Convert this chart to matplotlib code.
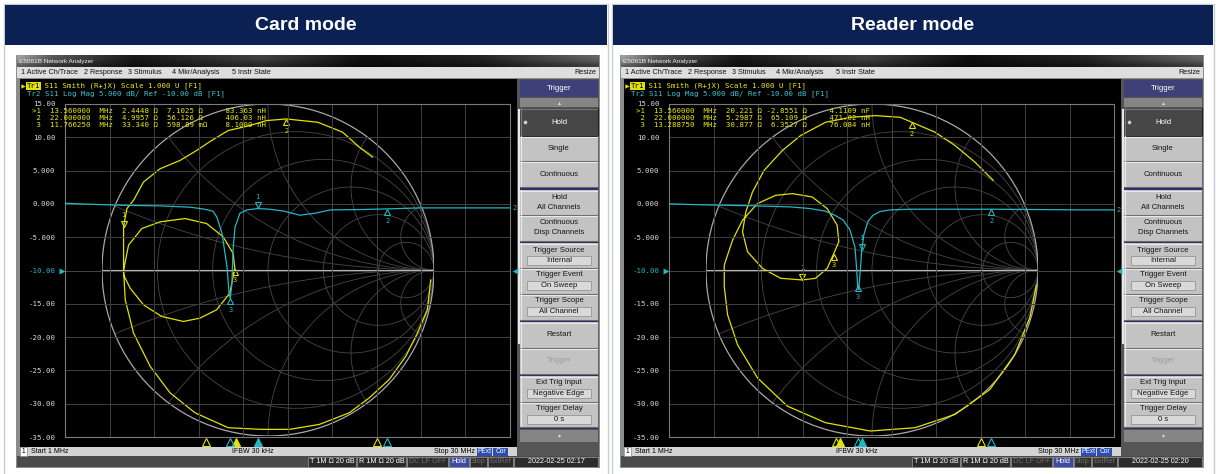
import matplotlib

matplotlib.use("Agg")
import matplotlib.pyplot as plt
import numpy as np
from matplotlib.patches import Circle, Rectangle
from matplotlib.transforms import offset_copy

W, H = 1218, 474
MONO = "DejaVu Sans Mono"
UI = "Liberation Sans"
MONO_PT = 5.3
CHAR_PX = 0.602 * MONO_PT * 100 / 72  # advance of one mono glyph at 100 dpi

YEL = "#e2e200"
TXT_YEL = "#ecec10"
CYN = "#22b8c4"
NAVY = "#0b2153"

# ---- marker table values -------------------------------------------------
marker_ids = ["1", "2", "3"]

card_marker_mhz = [13.56, 22.0, 11.76625]
card_r = ["2.4448", "4.9957", "33.340"]
card_x = ["7.1025", "56.126", "598.89"]
card_x_unit = ["Ω", "Ω", "mΩ"]
card_lc = ["83.363", "406.03", "8.1000"]
card_lc_unit = ["nH", "nH", "nH"]

reader_marker_mhz = [13.56, 22.0, 13.28875]
reader_r = ["20.221", "5.2987", "30.877"]
reader_x = ["-2.8551", "65.109", "6.3527"]
reader_x_unit = ["Ω", "Ω", "Ω"]
reader_lc = ["4.1109", "471.02", "76.084"]
reader_lc_unit = ["nF", "nH", "nH"]

# ---- Tr2: S11 log magnitude (MHz, dB) ------------------------------------
card_mag_mhz = [1.0, 2.0, 4.6, 7.2, 9.2, 10.1, 10.65, 10.9, 11.23, 11.56, 11.69,
                11.77, 11.88, 11.95, 12.08, 12.4, 12.86, 13.56, 14.35, 15.3, 16.3,
                17.3, 18.3, 20.2, 22.0, 24.1, 26.7, 30.0]
card_mag_db = [0.1, 0.0, -0.2, -0.3, -0.5, -0.8, -1.1, -2.0, -4.4, -9.5, -13.4,
               -14.2, -11.9, -6.9, -3.5, -1.4, -0.9, -0.7, -0.8, -1.1, -1.7,
               -1.4, -0.9, -0.85, -0.75, -0.6, -0.6, -0.6]

reader_mag_mhz = [1.0, 3.5, 6.7, 8.9, 10.2, 11.2, 11.8, 12.34, 12.79, 13.12, 13.22,
                  13.3, 13.36, 13.45, 13.56, 13.7, 13.97, 14.3, 14.75, 15.4, 16.7,
                  19.3, 22.0, 25.2, 27.8, 30.0]
reader_mag_db = [0.0, -0.15, -0.3, -0.45, -0.7, -1.1, -1.7, -2.4, -3.9, -6.5, -9.5,
                 -12.6, -12.9, -10.5, -7.0, -4.6, -2.6, -1.7, -1.15, -0.9, -0.8,
                 -0.8, -0.8, -0.85, -0.9, -0.9]

# ---- Tr1: S11 on the Smith chart (reflection coefficient) ----------------
card_smith_re = [0.98, 0.96, 0.90, 0.83, 0.73, 0.61, 0.49, 0.31, 0.13, -0.04,
                 -0.24, -0.44, -0.59, -0.71, -0.81, -0.86, -0.87, -0.84, -0.76, -0.65,
                 -0.50, -0.37, -0.27, -0.21, -0.20, -0.23, -0.31, -0.41, -0.51, -0.64,
                 -0.75, -0.83, -0.87, -0.87, -0.87, -0.87, -0.85, -0.81, -0.75, -0.65,
                 -0.53, -0.43, -0.34, -0.24, -0.11, -0.01, 0.11, 0.30, 0.45, 0.55,
                 0.63]
card_smith_im = [-0.06, -0.24, -0.38, -0.52, -0.66, -0.77, -0.86, -0.93, -0.96, -0.96,
                 -0.95, -0.86, -0.74, -0.58, -0.38, -0.18, 0.00, 0.15, 0.25, 0.29,
                 0.31, 0.28, 0.20, 0.10, 0.01, -0.14, -0.24, -0.29, -0.31, -0.28,
                 -0.21, -0.11, -0.03, 0.07, 0.18, 0.26, 0.37, 0.42, 0.53, 0.61,
                 0.66, 0.72, 0.78, 0.84, 0.87, 0.90, 0.91, 0.89, 0.83, 0.74,
                 0.68]
card_smith_marker_idx = [35, 46, 24]

reader_smith_re = [0.99, 0.95, 0.86, 0.71, 0.50, 0.26, -0.01, -0.28, -0.51, -0.69,
                   -0.81, -0.87, -0.89, -0.89, -0.84, -0.78, -0.69, -0.58, -0.48, -0.36,
                   -0.27, -0.21, -0.20, -0.23, -0.27, -0.34, -0.42, -0.55, -0.66, -0.75,
                   -0.78, -0.76, -0.72, -0.65, -0.54, -0.43, -0.28, -0.13, 0.02, 0.17,
                   0.24, 0.38, 0.50, 0.62, 0.73]
reader_smith_im = [-0.09, -0.29, -0.51, -0.72, -0.87, -0.95, -0.97, -0.92, -0.82, -0.65,
                   -0.45, -0.27, -0.10, 0.03, 0.18, 0.30, 0.40, 0.45, 0.46, 0.44,
                   0.37, 0.27, 0.17, 0.10, 0.01, -0.05, -0.06, -0.05, 0.01, 0.11,
                   0.23, 0.35, 0.47, 0.60, 0.72, 0.81, 0.89, 0.92, 0.93, 0.92,
                   0.89, 0.83, 0.75, 0.65, 0.54]
reader_smith_marker_idx = [26, 40, 23]

# Smith chart graticule
r_circles = [0.2, 0.5, 1.0, 2.0, 5.0]
x_arcs = [0.2, 0.5, 1.0, 2.0, 5.0]

db_ticks = np.arange(-35, 16, 5)
start_mhz, stop_mhz = 1.0, 30.0

trigger_menu = [
    ("title", 17, ["Trigger"]),
    ("up", 11, []),
    ("active", 28, ["Hold"]),
    ("button", 25, ["Single"]),
    ("button", 26, ["Continuous"]),
    ("sep", 3, []),
    ("button", 25, ["Hold", "All Channels"]),
    ("button", 26, ["Continuous", "Disp Channels"]),
    ("sep", 2, []),
    ("field", 25, ["Trigger Source", "Internal"]),
    ("field", 26, ["Trigger Event", "On Sweep"]),
    ("field", 26, ["Trigger Scope", "All Channel"]),
    ("sep", 2, []),
    ("button", 26, ["Restart"]),
    ("disabled", 26, ["Trigger"]),
    ("sep", 2, []),
    ("field", 26, ["Ext Trig Input", "Negative Edge"]),
    ("field", 25, ["Trigger Delay", "0 s"]),
    ("sep", 2, []),
    ("down", 14, []),
]

menu_items = ["1 Active Ch/Trace", "2 Response", "3 Stimulus", "4 Mkr/Analysis", "5 Instr State"]
menu_x = [21, 84, 128, 172, 232]

fig = plt.figure(figsize=(W / 100, H / 100), dpi=100)
fig.patch.set_facecolor("white")

bg = fig.add_axes([0, 0, 1, 1])
bg.set_autoscale_on(False)
bg.set_xlim(0, W)
bg.set_ylim(H, 0)
bg.axis("off")

top = fig.add_axes([0, 0, 1, 1])
top.set_zorder(6)
top.set_autoscale_on(False)
top.set_xlim(0, W)
top.set_ylim(H, 0)
top.axis("off")
top.patch.set_visible(False)


def px_axes(x, y, w, h, z):
    ax = fig.add_axes([x / W, 1 - (y + h) / H, w / W, h / H])
    ax.set_zorder(z)
    ax.patch.set_visible(False)
    return ax


def box(ax, x, y, w, h, fc, ec="none", lw=0.0, z=1):
    ax.add_patch(Rectangle((x, y), w, h, facecolor=fc, edgecolor=ec, linewidth=lw, zorder=z))


def bevel(ax, x, y, w, h, face, hi="#e9e9e9", lo="#6a6a6a"):
    box(ax, x, y, w, h, face, z=2)
    ax.plot([x, x + w], [y + 0.5, y + 0.5], color=hi, lw=0.8, zorder=3)
    ax.plot([x + 0.5, x + 0.5], [y, y + h], color=hi, lw=0.8, zorder=3)
    ax.plot([x, x + w], [y + h - 0.5, y + h - 0.5], color=lo, lw=0.8, zorder=3)
    ax.plot([x + w - 0.5, x + w - 0.5], [y, y + h], color=lo, lw=0.8, zorder=3)


def db_label(v):
    return f"{v:.3f}" if abs(v) < 10 else f"{v:.2f}"


def draw_table_frame():
    edge = "#c9ced6"
    for x, w in ((4, 604), (612, 602)):
        box(bg, x, 4, w, 480, "white", ec=edge, lw=1.0, z=0)
        box(bg, x + 1, 5, w - 2, 40, NAVY, z=1)
    bg.text(306, 25, "Card mode", color="white", fontsize=14, fontweight="bold",
            family=UI, ha="center", va="center")
    bg.text(913, 25, "Reader mode", color="white", fontsize=14, fontweight="bold",
            family=UI, ha="center", va="center")


def draw_window(x0, stamp):
    box(bg, x0 + 16, 55, 584, 413, "#8c8c8c", z=1)
    # title bar
    grad_x = np.linspace(0, 1, 300)
    shade = np.interp(grad_x, [0, 0.06, 0.2, 0.42, 0.6, 0.8, 1.0],
                      [0.55, 0.30, 0.08, 0.22, 0.05, 0.12, 0.35])
    rows = np.vstack([shade * 1.15, shade, shade * 0.7])
    img = np.clip(np.dstack([rows, rows, rows]), 0, 1)
    bg.imshow(img, extent=(x0 + 17, x0 + 599, 67, 55), aspect="auto", zorder=2,
              interpolation="bilinear")
    bg.text(x0 + 19, 61.3, "E5061B Network Analyzer", color="#eeeeee", fontsize=4.6,
            family=UI, va="center", zorder=3)
    # menu bar
    box(bg, x0 + 17, 67, 582, 11, "#dedede", z=2)
    for label, mx in zip(menu_items, menu_x):
        bg.text(x0 + mx, 72.6, label, color="#111111", fontsize=5.2, family=UI,
                va="center", zorder=3)
    bg.text(x0 + 596, 72.6, "Resize", color="#111111", fontsize=5.2, family=UI,
            va="center", ha="right", zorder=3)
    # measurement area
    box(bg, x0 + 20, 79, 497, 368, "black", z=2)
    # channel status line
    box(bg, x0 + 20, 447, 497, 9, "#d3d3d3", z=2)
    box(bg, x0 + 20, 447, 7, 9, "white", ec="#888888", lw=0.5, z=3)
    bg.text(x0 + 23.5, 451.6, "1", fontsize=4.8, family=UI, ha="center", va="center", zorder=4)
    bg.text(x0 + 31, 451.6, "Start 1 MHz", fontsize=5, family=UI, va="center", zorder=4)
    bg.text(x0 + 232, 451.6, "IFBW 30 kHz", fontsize=5, family=UI, va="center", zorder=4)
    bg.text(x0 + 475, 451.6, "Stop 30 MHz", fontsize=5, family=UI, va="center",
            ha="right", zorder=4)
    for lbl, bx, bw in (("PExt", 477, 15), ("Cor", 493, 15)):
        box(bg, x0 + bx, 447.5, bw, 8, "#2f4fb0", z=3)
        bg.text(x0 + bx + bw / 2, 451.6, lbl, color="white", fontsize=4.8, family=UI,
                ha="center", va="center", zorder=4)
    # instrument status bar
    box(bg, x0 + 17, 456, 582, 11, "#4b4b4b", z=2)
    segs = [("T 1M Ω 20 dB", 308, 48, "on"), ("R 1M Ω 20 dB", 357, 49, "on"),
            ("DC LF OFF", 407, 41, "off"), ("Hold", 449, 20, "hl"),
            ("Stop", 470, 17, "off"), ("ExtRef", 488, 25, "off"), (stamp, 514, 84, "on")]
    for lbl, sx, sw, kind in segs:
        fc = "#3d4ba0" if kind == "hl" else "#2c2c2c"
        tc = "#6e6e6e" if kind == "off" else "white"
        box(bg, x0 + sx, 457, sw, 9.5, fc, ec="#9a9a9a", lw=0.5, z=3)
        bg.text(x0 + sx + sw / 2, 461.8, lbl, color=tc, fontsize=5.2, family=UI,
                ha="center", va="center", zorder=4)


def draw_menu(x0):
    box(bg, x0 + 517, 79, 82, 377, "#555555", z=2)
    box(bg, x0 + 518, 109, 2, 235, "#e8e8e8", z=3)
    bx, bw = x0 + 520, 78
    y = 80
    for kind, h, lines in trigger_menu:
        if kind == "title":
            box(bg, bx, y, bw, h, "#3e4177", z=2)
            bg.text(bx + bw / 2, y + h / 2, lines[0], color="white", fontsize=5.6,
                    family=UI, ha="center", va="center", zorder=4)
        elif kind in ("up", "down"):
            box(bg, bx, y + 1, bw, h - 2, "#858585", z=2)
            bg.plot(bx + bw / 2, y + h / 2, marker="^" if kind == "up" else "v",
                    ms=2.2, color="#d9d9d9", mec="none", zorder=4)
        elif kind == "sep":
            box(bg, bx, y, bw, h, "#2b2f6e", z=2)
        elif kind == "active":
            bevel(bg, bx, y, bw, h, "#474747", hi="#777777", lo="#222222")
            bg.plot(bx + 5, y + h / 2, "o", ms=1.6, color="#d0d0d0", zorder=4)
            bg.text(bx + bw / 2, y + h / 2, lines[0], color="white", fontsize=5.6,
                    family=UI, ha="center", va="center", zorder=4)
        else:
            bevel(bg, bx, y, bw, h, "#c3c3c3")
            tc = "#9c9c9c" if kind == "disabled" else "#151515"
            if kind == "field":
                bg.text(bx + bw / 2, y + 7, lines[0], color=tc, fontsize=5.6,
                        family=UI, ha="center", va="center", zorder=4)
                box(bg, bx + 7, y + 12.5, bw - 14, 9, "#d9d9d9", ec="#8a8a8a", lw=0.5, z=3)
                bg.text(bx + bw / 2, y + 17.2, lines[1], color=tc, fontsize=5.6,
                        family=UI, ha="center", va="center", zorder=4)
            elif len(lines) == 2:
                bg.text(bx + bw / 2, y + 7.5, lines[0], color=tc, fontsize=5.6,
                        family=UI, ha="center", va="center", zorder=4)
                bg.text(bx + bw / 2, y + 17.5, lines[1], color=tc, fontsize=5.6,
                        family=UI, ha="center", va="center", zorder=4)
            else:
                bg.text(bx + bw / 2, y + h / 2, lines[0], color=tc, fontsize=5.6,
                        family=UI, ha="center", va="center", zorder=4)
        y += h


def marker_glyph(ax, x, y, mid, color, active):
    up = offset_copy(ax.transData, fig=fig, x=0, y=3.2, units="dots")
    dn = offset_copy(ax.transData, fig=fig, x=0, y=-3.2, units="dots")
    if active:
        ax.plot(x, y, marker="v", ms=4.6, mfc="none", mec=color, mew=0.8,
                transform=up, clip_on=False, zorder=6)
        ax.annotate(mid, (x, y), xytext=(0, 6.5), textcoords="offset points",
                    color=color, fontsize=5, family=MONO, ha="center", va="bottom",
                    annotation_clip=False, zorder=6)
    else:
        ax.plot(x, y, marker="^", ms=4.6, mfc="none", mec=color, mew=0.8,
                transform=dn, clip_on=False, zorder=6)
        ax.annotate(mid, (x, y), xytext=(0, -6.5), textcoords="offset points",
                    color=color, fontsize=5, family=MONO, ha="center", va="top",
                    annotation_clip=False, zorder=6)


def readout_line(k, mhz, r, x, xu, lc, lcu):
    tag = (">" if k == 0 else " ") + marker_ids[k]
    return f"{tag:<2}  {mhz:9.6f}  MHz{r:>8} Ω {x:>7} {xu:<2}  {lc:>8} {lcu}"


def draw_screen(x0, mag_f, mag_db, sm_re, sm_im, sm_idx, mk_mhz, r_vals, x_vals,
                x_units, lc_vals, lc_units):
    # Smith chart (Tr1)
    sx = px_axes(x0 + 102, 104, 332, 332, 2)
    sx.set_xlim(-1, 1)
    sx.set_ylim(-1, 1)
    sx.axis("off")
    clip = Circle((0, 0), 1, fill=False, ec="none", transform=sx.transData)
    sx.add_patch(clip)
    for r in r_circles:
        sx.add_patch(Circle((r / (1 + r), 0), 1 / (1 + r), fill=False, ec="#474747", lw=0.6))
    for xv in x_arcs:
        for s in (1, -1):
            arc = Circle((1, s / xv), 1 / xv, fill=False, ec="#474747", lw=0.6)
            sx.add_patch(arc)
            arc.set_clip_path(clip)
    sx.plot([-1, 1], [0, 0], color="#b4b4b4", lw=0.8)
    sx.add_patch(Circle((0, 0), 1, fill=False, ec="#a8a8a8", lw=0.9))
    sx.plot(sm_re, sm_im, color=YEL, lw=0.9, zorder=5, clip_on=False,
            solid_joinstyle="round")
    for k, (i, mid) in enumerate(zip(sm_idx, marker_ids)):
        marker_glyph(sx, sm_re[i], sm_im[i], mid, YEL, k == 0)

    # Log magnitude graticule (Tr2)
    mx = px_axes(x0 + 65, 104, 445, 333, 3)
    mx.set_xlim(start_mhz, stop_mhz)
    mx.set_ylim(-35, 15)
    mx.set_xticks(np.linspace(start_mhz, stop_mhz, 11))
    mx.set_xticklabels([])
    mx.set_yticks(db_ticks)
    mx.set_yticklabels([db_label(v) for v in db_ticks])
    mx.tick_params(length=0, pad=7, labelsize=MONO_PT, labelcolor="#d8d8d8")
    for lbl, v in zip(mx.get_yticklabels(), db_ticks):
        lbl.set_fontfamily(MONO)
        if v == -10:
            lbl.set_color(CYN)
    mx.grid(True, color="#404040", lw=0.7)
    for sp in mx.spines.values():
        sp.set_color("#7a7a7a")
        sp.set_linewidth(0.8)
    mx.axhline(-10, color="#8a8a8a", lw=0.7, zorder=1)
    mx.plot(mag_f, mag_db, color=CYN, lw=0.9, zorder=5)
    for k, (f, mid) in enumerate(zip(mk_mhz, marker_ids)):
        marker_glyph(mx, f, np.interp(f, mag_f, mag_db), mid, CYN, k == 0)
    mx.annotate("2", (stop_mhz, mag_db[-1]), xytext=(1.5, 0), textcoords="offset points",
                color=CYN, fontsize=5, family=MONO, va="center", annotation_clip=False)
    left = offset_copy(mx.transData, fig=fig, x=-3, y=0, units="dots")
    right = offset_copy(mx.transData, fig=fig, x=5, y=0, units="dots")
    mx.plot(start_mhz, -10, marker=">", ms=5, color=CYN, mec="none", transform=left, clip_on=False)
    mx.plot(stop_mhz, -10, marker="<", ms=5, color=CYN, mec="none", transform=right, clip_on=False)

    # marker position strips under the graticule
    ys = px_axes(x0 + 26, 437, 485, 9, 4)
    cs = px_axes(x0 + 65, 437, 445, 9, 4)
    for ax, col in ((ys, YEL), (cs, CYN)):
        ax.set_xlim(start_mhz, stop_mhz)
        ax.set_ylim(0, 1)
        ax.axis("off")
        for k, f in enumerate(mk_mhz):
            ax.plot(f, 0.45, marker="^", ms=5.5, mec=col, mew=0.8,
                    mfc=col if k == 0 else "none", clip_on=False)

    # trace header lines
    top.plot(x0 + 22.5, 86, marker=">", ms=3.2, color=YEL, mec="none")
    top.text(x0 + 27, 86, "Tr1", color="black", fontsize=MONO_PT, family=MONO, va="center",
             bbox=dict(fc=YEL, ec="none", pad=0.4))
    top.text(x0 + 27 + 3 * CHAR_PX, 86, " S11 Smith (R+jX) Scale 1.000 U [F1]", color=TXT_YEL,
             fontsize=MONO_PT, family=MONO, va="center")
    top.text(x0 + 27, 94, "Tr2 S11 Log Mag 5.000 dB/ Ref -10.00 dB [F1]", color="#36c8d2",
             fontsize=MONO_PT, family=MONO, va="center")

    # marker readout table
    for k in range(len(marker_ids)):
        line = readout_line(k, mk_mhz[k], r_vals[k], x_vals[k], x_units[k],
                            lc_vals[k], lc_units[k])
        top.text(x0 + 32, 111 + 6.8 * k, line, color=TXT_YEL, fontsize=MONO_PT,
                 family=MONO, va="center")


draw_table_frame()
draw_window(0, "2022-02-25 02:17")
draw_window(604, "2022-02-25 02:20")
draw_menu(0)
draw_menu(604)
draw_screen(0, card_mag_mhz, card_mag_db, card_smith_re, card_smith_im,
            card_smith_marker_idx, card_marker_mhz, card_r, card_x, card_x_unit,
            card_lc, card_lc_unit)
draw_screen(604, reader_mag_mhz, reader_mag_db, reader_smith_re, reader_smith_im,
            reader_smith_marker_idx, reader_marker_mhz, reader_r, reader_x,
            reader_x_unit, reader_lc, reader_lc_unit)

bg.set_xlim(0, W)
bg.set_ylim(H, 0)
fig.savefig("out.png", dpi=100)
